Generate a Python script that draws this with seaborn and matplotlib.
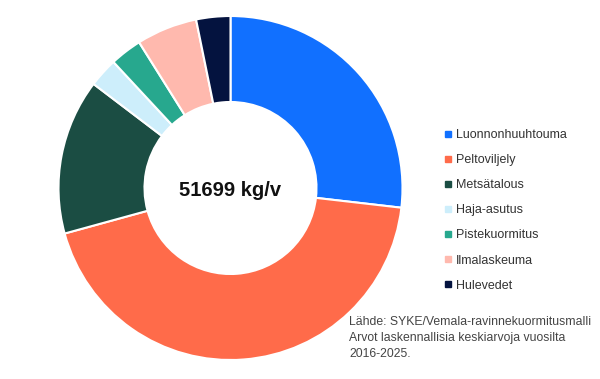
import matplotlib
matplotlib.use("Agg")
import matplotlib.pyplot as plt
from matplotlib.lines import Line2D
import seaborn as sns

labels = ["Luonnonhuuhtouma", "Peltoviljely", "Metsätalous", "Haja-asutus",
          "Pistekuormitus", "Ilmalaskeuma", "Hulevedet"]
values = [13870, 22700, 7550, 1420, 1550, 2950, 1659]
colors = ["#1170FF", "#FF6B4A", "#1B4D43", "#CDEEFB", "#27A88E", "#FFB9AE", "#04133F"]
center_label = "51699 kg/v"
source_lines = ["Lähde: SYKE/Vemala-ravinnekuormitusmalli",
                "Arvot laskennallisia keskiarvoja vuosilta",
                "2016-2025."]

sns.set_theme(style="white")
plt.rcParams["font.family"] = ["Liberation Sans", "DejaVu Sans"]

W, H = 600, 379
fig = plt.figure(figsize=(W / 100, H / 100), dpi=100)
cx, cy, r = 230.5, 188, 172
ax = fig.add_axes([(cx - r) / W, (H - cy - r) / H, 2 * r / W, 2 * r / H])
ax.pie(values, colors=colors, startangle=90, counterclock=False, radius=1,
       wedgeprops=dict(width=0.5, edgecolor="white", linewidth=1.5))
ax.set_xlim(-1, 1)
ax.set_ylim(-1, 1)
ax.set_aspect("equal")
ax.axis("off")
ax.text(0, -0.015, center_label, ha="center", va="center", fontsize=14.5,
        fontweight="bold", color="#111111")

handles = [Line2D([], [], marker="s", linestyle="none", markersize=4,
                  markerfacecolor=c, markeredgecolor=c) for c in colors]
fig.legend(handles, labels, loc="upper left", bbox_to_anchor=(439 / W, 1 - 124 / H),
           frameon=False, fontsize=9, labelspacing=1.05, handlelength=0.6,
           handletextpad=0.35, labelcolor="#333333", borderaxespad=0)

for i, line in enumerate(source_lines):
    fig.text(349 / W, 1 - (322 + 16 * i) / H, line, ha="left", va="center",
             fontsize=8.8, color="#444444")

fig.savefig("out.png", dpi=100, facecolor="white")
